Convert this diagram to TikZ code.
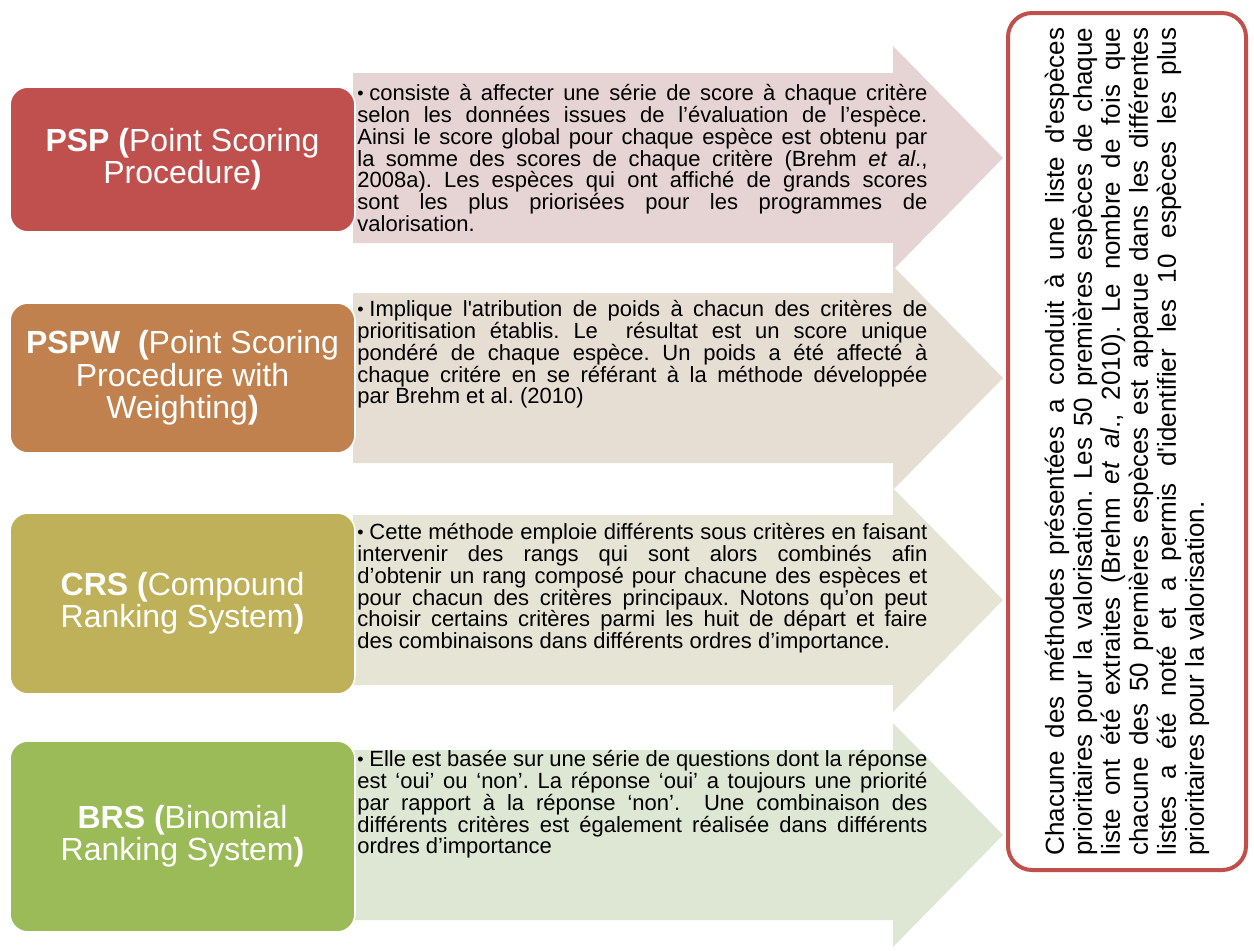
\documentclass[tikz,border=0pt]{standalone}
\usepackage{fontspec}
\newfontfamily\arial{Liberation Sans}
\usetikzlibrary{positioning}

\definecolor{pspred}{HTML}{C0504D}
\definecolor{pspwbrown}{HTML}{C0814E}
\definecolor{crsolive}{HTML}{BFB15A}
\definecolor{brsgreen}{HTML}{9BBB59}
\definecolor{arrpink}{HTML}{E6D3D3}
\definecolor{arrbeige}{HTML}{E6DDD3}
\definecolor{arrcream}{HTML}{E5E4D5}
\definecolor{arrmint}{HTML}{DEE6D4}

\newcommand{\puce}{\noindent\hangindent=6pt\hangafter=1\makebox[6pt][l]{\raisebox{0.6pt}{\small •}}}
\frenchspacing

\begin{document}
\begin{tikzpicture}[x=0.5pt,y=-0.5pt,
            methode/.style={rectangle,rounded corners=9pt,draw=white,line width=0.8pt,minimum width=172.5pt,
                text=white,align=center,font=\arial\fontsize{16}{16.2}\selectfont},
            txt/.style={anchor=north west,inner sep=0pt,text width=285pt,align=justify,
                font=\arial\fontsize{11}{10.9}\selectfont},
            cadre/.style={rectangle,rounded corners=12pt,draw=pspred,line width=2pt,fill=white}]

   \useasboundingbox (0,0) rectangle (1254,950);

   % fleches
   \foreach \yc/\col in {158/arrpink,378/arrbeige,600/arrcream,835/arrmint}
      \fill[\col] (353,\yc-85) -- (893,\yc-85) -- (893,\yc-112) -- (1003,\yc)
         -- (893,\yc+112) -- (893,\yc+85) -- (353,\yc+85) -- cycle;

   % methodes
   \node[methode,fill=pspred,minimum height=72.5pt] (psp) at (182.5,159.5)
      {\textbf{PSP (}Point Scoring\\Procedure\textbf{)}};
   \node[methode,fill=pspwbrown,minimum height=75pt] (pspw) at (182.5,378)
      {\textbf{PSPW}\ \ \textbf{(}Point Scoring\\Procedure with\\Weighting\textbf{)}};
   \node[methode,fill=crsolive,minimum height=90.5pt] (crs) at (182.5,603.5)
      {\textbf{CRS (}Compound\\Ranking System\textbf{)}};
   \node[methode,fill=brsgreen,minimum height=95.5pt] (brs) at (182.5,836.5)
      {\textbf{BRS (}Binomial\\Ranking System\textbf{)}};

   % descriptions
   \node[txt] (t1) at (357,84) {\puce consiste à affecter une série de score à chaque critère\linebreak
      selon les données issues de l’évaluation de l’espèce.\linebreak
      Ainsi le score global pour chaque espèce est obtenu par\linebreak
      la somme des scores de chaque critère (Brehm \textit{et al}.,\linebreak
      2008a). Les espèces qui ont affiché de grands scores\linebreak
      sont les plus priorisées pour les programmes de\linebreak
      valorisation.};
   \node[txt] (t2) at (357,300) {\puce Implique l'atribution de poids à chacun des critères de\linebreak
      prioritisation établis. Le\ \ résultat est un score unique\linebreak
      pondéré de chaque espèce. Un poids a été affecté à\linebreak
      chaque critére en se référant à la méthode développée\linebreak
      par Brehm et al. (2010)};
   \node[txt] (t3) at (357,523) {\puce Cette méthode emploie différents sous critères en faisant\linebreak
      intervenir des rangs qui sont alors combinés afin\linebreak
      d’obtenir un rang composé pour chacune des espèces et\linebreak
      pour chacun des critères principaux. Notons qu’on peut\linebreak
      choisir certains critères parmi les huit de départ et faire\linebreak
      des combinaisons dans différents ordres d’importance.};
   \node[txt] (t4) at (357,750) {\puce Elle est basée sur une série de questions dont la réponse\linebreak
      est ‘oui’ ou ‘non’. La réponse ‘oui’ a toujours une priorité\linebreak
      par rapport à la réponse ‘non’.\ \ Une combinaison des\linebreak
      différents critères est également réalisée dans différents\linebreak
      ordres d’importance};

   % synthese
   \node[cadre,rotate=90,minimum width=428.5pt,minimum height=119pt,text width=414pt,align=justify,
         font=\arial\fontsize{13}{14}\selectfont] (synth) at (1127,441.5)
      {Chacune des méthodes présentées a conduit à une liste d'espèces\linebreak
      prioritaires pour la valorisation. Les 50 premières espèces de chaque\linebreak
      liste ont été extraites (Brehm \textit{et al}., 2010). Le nombre de fois que\linebreak
      chacune des 50 premières espèces est apparue dans les différentes\linebreak
      listes a été noté et a permis d'identifier les 10 espèces les plus\linebreak
      prioritaires pour la valorisation.};
\end{tikzpicture}
\end{document}
